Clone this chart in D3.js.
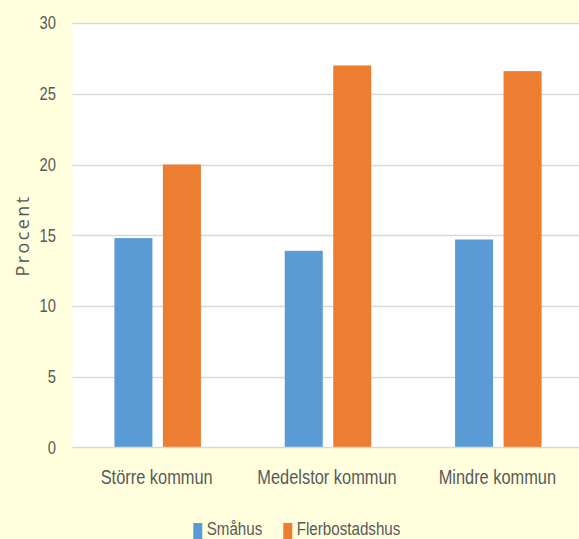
<!DOCTYPE html>
<html>
<head>
<meta charset="utf-8">
<script src="https://cdn.jsdelivr.net/npm/d3@7"></script>
<style>
html,body{margin:0;padding:0;background:#FFFFDE;}
svg{display:block;}
</style>
</head>
<body>
<svg id="chart" width="579" height="539"></svg>
<script>
const categories = ["Större kommun", "Medelstor kommun", "Mindre kommun"];
const seriesNames = ["Småhus", "Flerbostadshus"];
const smahus = [14.8, 13.9, 14.7];
const flerbostadshus = [20.0, 27.0, 26.6];
const yTicks = [0, 5, 10, 15, 20, 25, 30];
const colors = ["#5B9BD5", "#ED7D31"];

const svg = d3.select("#chart");
const W = 579, H = 539;
const x0 = 72.5, x1 = 583.5, yTop = 23, yBot = 447.5;
const font = "'Liberation Sans', Arial, sans-serif";
const NARROW = 0.82;
const textColor = "#595959";

svg.append("rect").attr("width", W).attr("height", H).attr("fill", "#FFFFDE");
svg.append("rect").attr("x", x0).attr("y", yTop).attr("width", x1 - x0).attr("height", yBot - yTop).attr("fill", "#FFFFFF");

const x = d3.scaleBand().domain(categories).range([x0, x1]).paddingInner(0).paddingOuter(0);
const y = d3.scaleLinear().domain([0, 30]).range([yBot, yTop]);

// gridlines
svg.append("g").selectAll("line").data(yTicks.filter(t => t > 0)).join("line")
  .attr("x1", x0).attr("x2", x1)
  .attr("y1", d => Math.round(y(d)) + 0.5).attr("y2", d => Math.round(y(d)) + 0.5)
  .attr("stroke", "#D9D9D9").attr("stroke-width", 1.3);

// y axis labels
const yAxis = d3.axisLeft(y).tickValues(yTicks).tickSize(0).tickPadding(0);
const gy = svg.append("g").attr("transform", `translate(56,0)`).call(yAxis);
gy.select(".domain").remove();
gy.selectAll("text").attr("x", 0).attr("font-family", font).attr("font-size", 18).attr("fill", textColor)
  .attr("transform", `scale(${NARROW},1)`);

// bars
const barW = 38, gap = 10.5;
const data = categories.map((c, i) => ({ c, vals: [smahus[i], flerbostadshus[i]] }));
const groupOffset = (x.bandwidth() - (barW * 2 + gap)) / 2;
const groups = svg.append("g").selectAll("g").data(data).join("g")
  .attr("transform", d => `translate(${x(d.c) + groupOffset},0)`);
groups.selectAll("rect").data(d => d.vals.map((v, j) => ({ v, j }))).join("rect")
  .attr("x", d => d.j * (barW + gap))
  .attr("width", barW)
  .attr("y", d => y(d.v))
  .attr("height", d => y(0) - y(d.v))
  .attr("fill", d => colors[d.j]);

// baseline
svg.append("line").attr("x1", x0).attr("x2", x1).attr("y1", yBot).attr("y2", yBot)
  .attr("stroke", "#D9D9D9").attr("stroke-width", 1.5);

// x axis labels
const xAxis = d3.axisBottom(x).tickSize(0).tickPadding(0);
const gx = svg.append("g").attr("transform", `translate(-1,0)`).call(xAxis);
gx.select(".domain").remove();
gx.selectAll("text").attr("font-family", font).attr("font-size", 20).attr("fill", textColor)
  .attr("dy", null).attr("y", 484.5).attr("transform", `scale(${NARROW},1)`);

// y title
svg.append("text").attr("transform", "translate(29,235.5) rotate(-90)")
  .attr("text-anchor", "middle")
  .attr("font-family", "'Open Sans', sans-serif").attr("font-size", 18)
  .attr("letter-spacing", 2.4)
  .attr("fill", textColor).text("Procent");

// legend
const legendX = [193.3, 283.3];
const lg = svg.append("g").selectAll("g").data(seriesNames).join("g")
  .attr("transform", (d, i) => `translate(${legendX[i]},0)`);
lg.append("rect").attr("x", 0).attr("y", 523).attr("width", 9).attr("height", 16).attr("fill", (d, i) => colors[i]);
lg.append("text").attr("x", 13.4 / NARROW).attr("y", 534.8)
  .attr("transform", `scale(${NARROW},1)`)
  .attr("font-family", font).attr("font-size", 18.5).attr("fill", textColor).text(d => d);
</script>
</body>
</html>
